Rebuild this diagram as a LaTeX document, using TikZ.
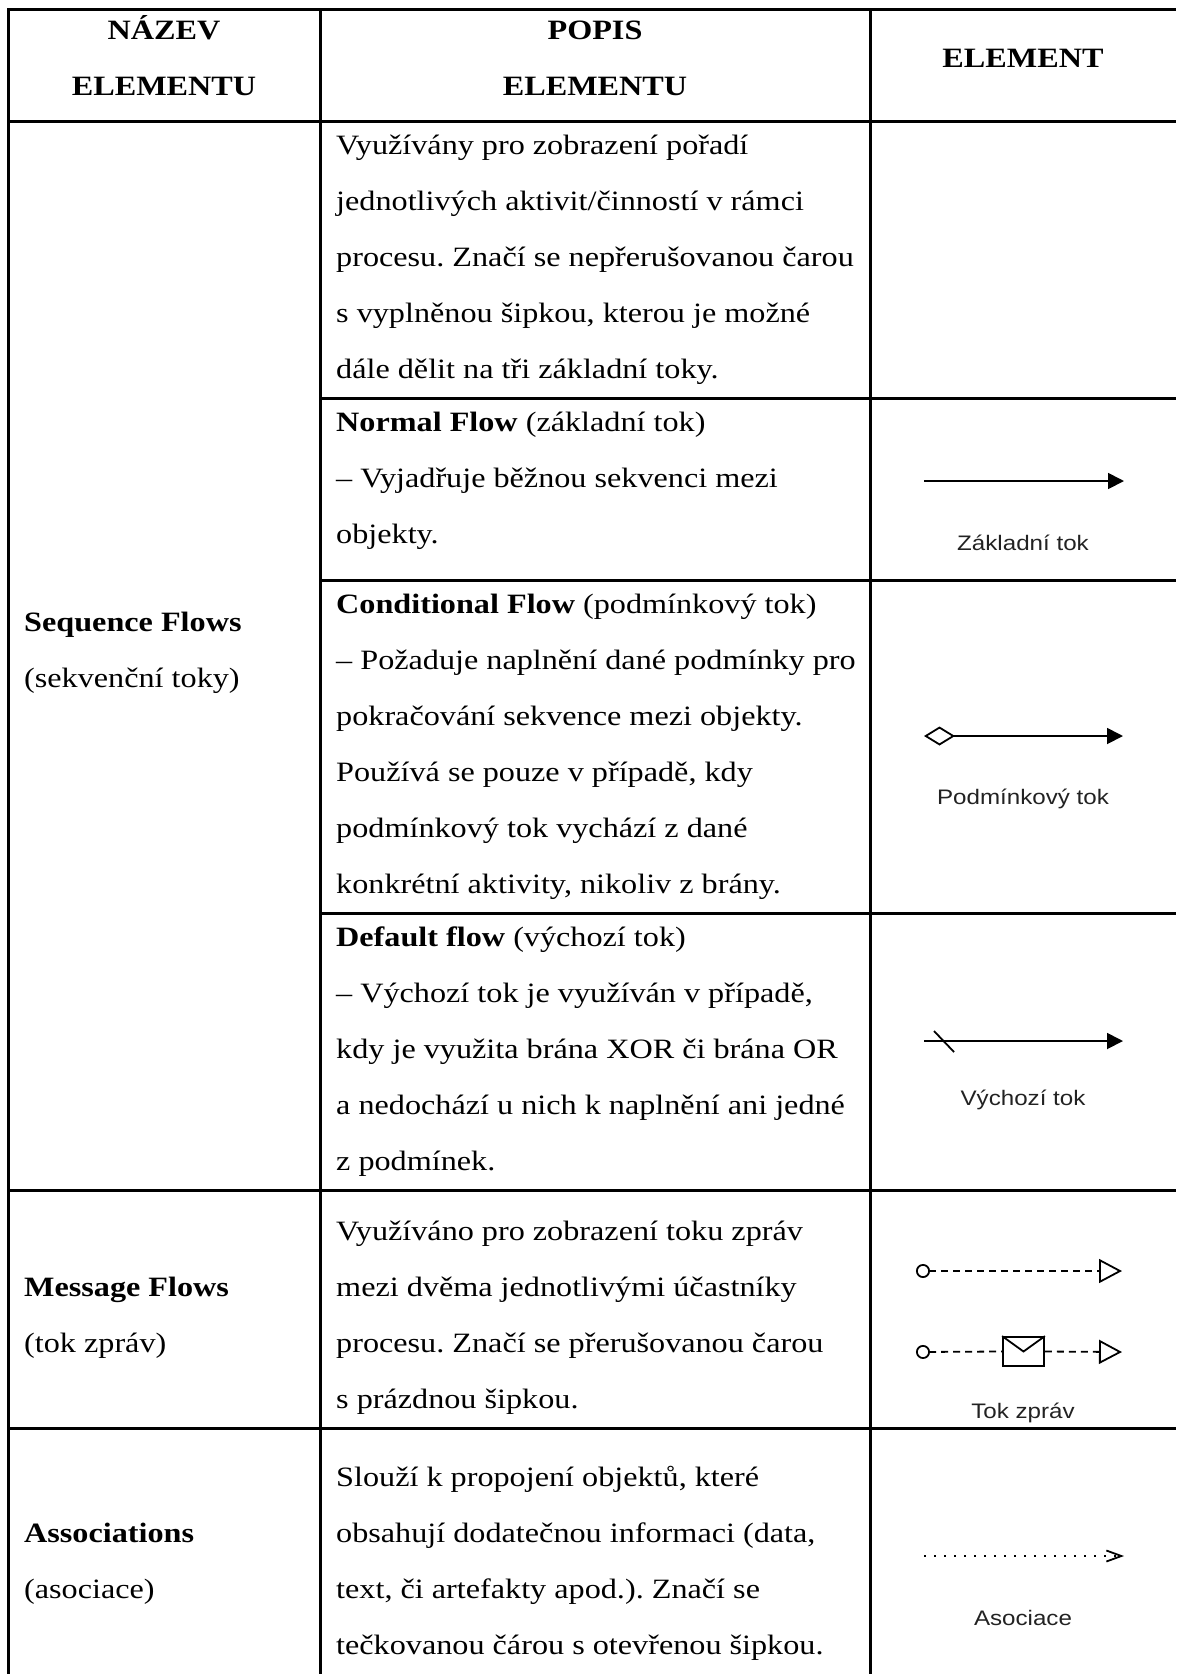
\documentclass[tikz,border=0pt]{standalone}
\usepackage{fontspec}
\setmainfont{Liberation Serif}[FakeStretch=1.15]
\newfontfamily\lblfont{Liberation Sans}[FakeStretch=1.15]
\usetikzlibrary{arrows.meta}
\frenchspacing
\definecolor{lblgray}{HTML}{222222}
\tikzset{
  grid/.style={line width=3pt, black, line join=miter},
  txt/.style={inner sep=0pt, anchor=base west, font=\fontsize{28}{56}\selectfont},
  hdr/.style={inner sep=0pt, anchor=base, font=\fontsize{28}{56}\selectfont\bfseries},
  lbl/.style={inner sep=0pt, anchor=center, text=lblgray, font=\lblfont\fontsize{21}{25}\selectfont},
  flowline/.style={line width=1.8pt, black},
}
\newcommand\tl[4]{\node[txt] (#1) at (#2,#3) {#4};}
\begin{document}
\begin{tikzpicture}[x=1pt,y=-1pt]
\useasboundingbox (0,0) rectangle (1176,1674);
% grid
\draw[grid] (8,1674) -- (8,9) -- (1176,9);
\draw[grid] (320,9) -- (320,1674);
\draw[grid] (870,9) -- (870,1674);
\draw[grid] (8,121) -- (1176,121);
\draw[grid] (320,398) -- (1176,398);
\draw[grid] (320,580) -- (1176,580);
\draw[grid] (320,913) -- (1176,913);
\draw[grid] (8,1190) -- (1176,1190);
\draw[grid] (8,1428) -- (1176,1428);
% header
\node[hdr] (h1a) at (164,39) {NÁZEV};
\node[hdr] (h1b) at (164,95) {ELEMENTU};
\node[hdr] (h2a) at (595,39) {POPIS};
\node[hdr] (h2b) at (595,95) {ELEMENTU};
\node[hdr] (h3) at (1023,67) {ELEMENT};
% left column
\tl{l1a}{24}{631}{\textbf{Sequence Flows}}
\tl{l1b}{24}{687}{(sekvenční toky)}
\tl{l2a}{24}{1296}{\textbf{Message Flows}}
\tl{l2b}{24}{1352}{(tok zpráv)}
\tl{l3a}{24}{1542}{\textbf{Associations}}
\tl{l3b}{24}{1598}{(asociace)}
% description column
\tl{r1a}{336}{154}{Využívány pro zobrazení pořadí}
\tl{r1b}{336}{210}{jednotlivých aktivit/činností v rámci}
\tl{r1c}{336}{266}{procesu. Značí se nepřerušovanou čarou}
\tl{r1d}{336}{322}{s vyplněnou šipkou, kterou je možné}
\tl{r1e}{336}{378}{dále dělit na tři základní toky.}
\tl{r2a}{336}{431}{\textbf{Normal Flow} (základní tok)}
\tl{r2b}{336}{487}{– Vyjadřuje běžnou sekvenci mezi}
\tl{r2c}{336}{543}{objekty.}
\tl{r3a}{336}{613}{\textbf{Conditional Flow} (podmínkový tok)}
\tl{r3b}{336}{669}{– Požaduje naplnění dané podmínky pro}
\tl{r3c}{336}{725}{pokračování sekvence mezi objekty.}
\tl{r3d}{336}{781}{Používá se pouze v případě, kdy}
\tl{r3e}{336}{837}{podmínkový tok vychází z dané}
\tl{r3f}{336}{893}{konkrétní aktivity, nikoliv z brány.}
\tl{r4a}{336}{946}{\textbf{Default flow} (výchozí tok)}
\tl{r4b}{336}{1002}{– Výchozí tok je využíván v případě,}
\tl{r4c}{336}{1058}{kdy je využita brána XOR či brána OR}
\tl{r4d}{336}{1114}{a nedochází u nich k naplnění ani jedné}
\tl{r4e}{336}{1170}{z podmínek.}
\tl{r5a}{336}{1240}{Využíváno pro zobrazení toku zpráv}
\tl{r5b}{336}{1296}{mezi dvěma jednotlivými účastníky}
\tl{r5c}{336}{1352}{procesu. Značí se přerušovanou čarou}
\tl{r5d}{336}{1408}{s prázdnou šipkou.}
\tl{r6a}{336}{1486}{Slouží k propojení objektů, které}
\tl{r6b}{336}{1542}{obsahují dodatečnou informaci (data,}
\tl{r6c}{336}{1598}{text, či artefakty apod.). Značí se}
\tl{r6d}{336}{1654}{tečkovanou čárou s otevřenou šipkou.}
% element column: normal flow
\coordinate (nfA) at (924,481);
\coordinate (nfB) at (1124,481);
\draw[flowline, -{Triangle[length=16pt,width=16pt]}] (nfA) -- (nfB);
\node[lbl] (nfL) at (1023,543) {Základní tok};
% conditional flow
\coordinate (cfA) at (924,736);
\coordinate (cfB) at (1123,736);
\draw[flowline, {Diamond[open,length=31pt,width=19pt]}-{Triangle[length=16pt,width=16pt]}] (cfA) -- (cfB);
\node[lbl] (cfL) at (1023,799) {Podmínkový tok};
% default flow
\coordinate (dfA) at (924,1041);
\coordinate (dfB) at (1123,1041);
\draw[flowline, -{Triangle[length=16pt,width=16pt]}] (dfA) -- (dfB);
\coordinate (dsA) at (934,1031);
\coordinate (dsB) at (954,1052);
\draw[flowline] (dsA) -- (dsB);
\node[lbl] (dfL) at (1023,1100) {Výchozí tok};
% message flows
\coordinate (mfA) at (916,1271);
\coordinate (mfB) at (1122,1271);
\draw[flowline, dash pattern=on 7pt off 5pt, {Circle[open,length=14pt,width=14pt,sep=0pt]}-{Triangle[open,length=23pt,width=24pt]}] (mfA) -- (mfB);
\node[draw, line width=1.8pt, minimum width=41pt, minimum height=29pt, inner sep=0pt] (env) at (1023.5,1351.5) {};
\draw[line width=1.8pt] (env.north west) -- (env.center) -- (env.north east);
\coordinate (mgA) at (916,1352);
\coordinate (mgB) at (1122,1352);
\draw[flowline, dash pattern=on 7pt off 5pt, {Circle[open,length=14pt,width=14pt]}-] (mgA) -- (env.west);
\draw[flowline, dash pattern=on 7pt off 5pt, -{Triangle[open,length=23pt,width=24pt]}] (env.east) -- (mgB);
\node[lbl] (mfL) at (1023,1413) {Tok zpráv};
% associations
\coordinate (asA) at (924,1556);
\coordinate (asB) at (1124,1556);
\draw[flowline, dash pattern=on 2pt off 8pt, -{Straight Barb[length=15pt,width=11pt]}] (asA) -- (asB);
\node[lbl] (asL) at (1023,1618) {Asociace};
\end{tikzpicture}
\end{document}
